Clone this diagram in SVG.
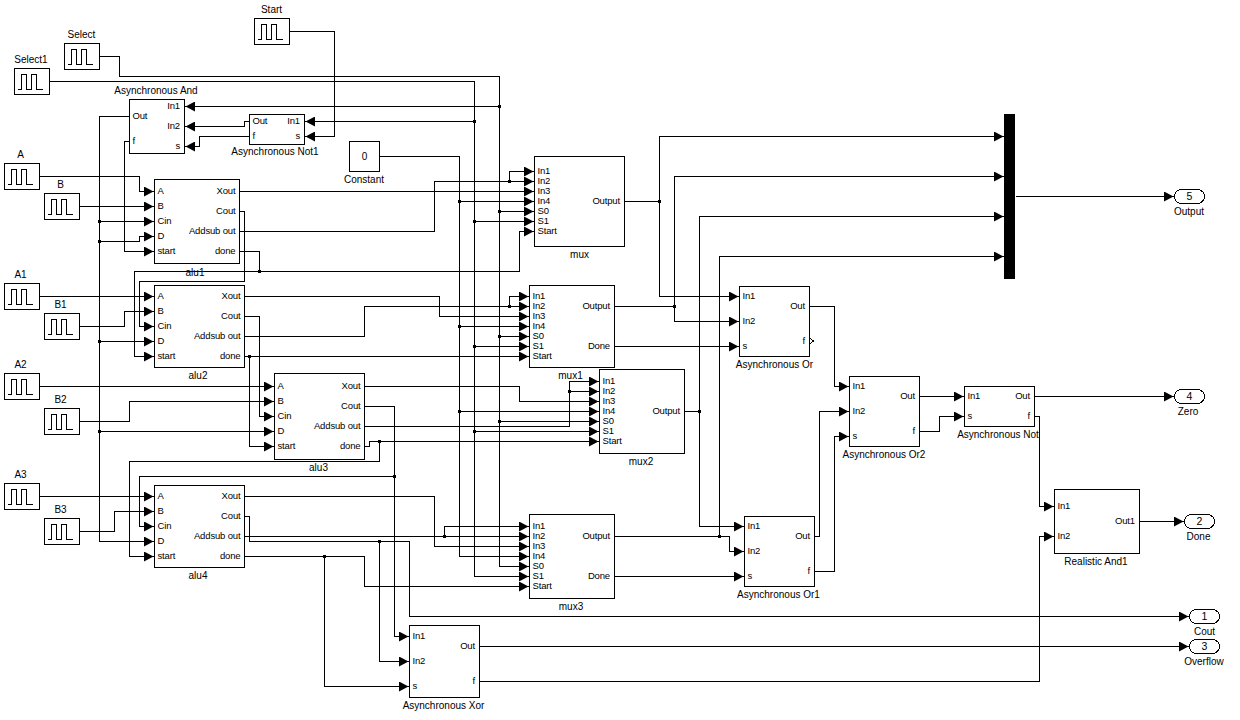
<svg xmlns="http://www.w3.org/2000/svg" xmlns:xlink="http://www.w3.org/1999/xlink" width="1240" height="720" viewBox="0 0 1240 720">
<style>
text{font-family:"Liberation Sans",Arial,sans-serif;fill:#000}
.p{font-size:9.5px;letter-spacing:-.15px;transform:translateY(-1px)}
.e{font-size:9.5px;letter-spacing:-.15px;text-anchor:end;transform:translateY(-1px)}
.t{font-size:10px;text-anchor:middle}
.n{font-size:10.5px;text-anchor:middle}
.b{fill:#fff;stroke:#000;stroke-width:1;shape-rendering:crispEdges}
.g{fill:none;stroke:#000;stroke-width:1;shape-rendering:crispEdges}
#wires path{fill:none;stroke:#000;stroke-width:1;shape-rendering:crispEdges}
#wires path.a{marker-end:url(#arr)}
#wires rect{fill:#000}
</style>
<defs>
<marker id="arr" markerUnits="userSpaceOnUse" markerWidth="12" markerHeight="10" refX="10.5" refY="5" orient="auto"><path d="M0,0L9.5,5L0,10Z" fill="#000"/></marker>
<path id="pulse" d="M3.5,21H7V6H12V21H17V6H22V21H28" fill="none" stroke="#000" shape-rendering="crispEdges"/>
<rect id="dot" width="3" height="3" x="-1.5" y="-1.5"/>
</defs>
<rect width="1240" height="720" fill="#fff"/>

<g id="wires">
<path class="a" d="M99.5,56.5H119.5V76.5H499.5V566.5H529.5"/>
<path class="a" d="M499.5,106.5H184.5"/>
<path class="a" d="M499.5,211.5H534.5"/>
<path class="a" d="M499.5,336.5H529.5"/>
<path class="a" d="M499.5,421.5H599.5"/>
<path class="a" d="M49.5,81.5H474.5V576.5H529.5"/>
<path class="a" d="M474.5,121.5H304.5"/>
<path class="a" d="M474.5,221.5H534.5"/>
<path class="a" d="M474.5,346.5H529.5"/>
<path class="a" d="M474.5,431.5H599.5"/>
<path class="a" d="M289.5,31.5H334.5V136.5H304.5"/>
<path class="a" d="M249.5,121.5H244.5V126.5H184.5"/>
<path class="a" d="M249.5,136.5H199.5V146.5H184.5"/>
<path class="a" d="M129.5,116.5H99.5V541.5H154.5"/>
<path class="a" d="M99.5,221.5H154.5"/>
<path class="a" d="M99.5,241.5H139.5V236.5H154.5"/>
<path class="a" d="M99.5,341.5H154.5"/>
<path class="a" d="M99.5,431.5H274.5"/>
<path class="a" d="M129.5,141.5H124.5V251.5H154.5"/>
<path class="a" d="M39.5,176.5H139.5V191.5H154.5"/>
<path class="a" d="M79.5,206.5H154.5"/>
<path class="a" d="M239.5,191.5H534.5"/>
<path class="a" d="M239.5,231.5H434.5V181.5H534.5"/>
<path class="a" d="M509.5,181.5V171.5H534.5"/>
<path class="a" d="M239.5,251.5H259.5V271.5H519.5V231.5H534.5"/>
<path class="a" d="M259.5,271.5H134.5V356.5H154.5"/>
<path class="a" d="M239.5,211.5H244.5V281.5H139.5V326.5H154.5"/>
<path class="a" d="M379.5,156.5H459.5V556.5H529.5"/>
<path class="a" d="M459.5,201.5H534.5"/>
<path class="a" d="M459.5,326.5H529.5"/>
<path class="a" d="M459.5,411.5H599.5"/>
<path class="a" d="M39.5,296.5H154.5"/>
<path class="a" d="M79.5,326.5H124.5V311.5H154.5"/>
<path class="a" d="M244.5,296.5H439.5V316.5H529.5"/>
<path class="a" d="M244.5,316.5H259.5V416.5H274.5"/>
<path class="a" d="M244.5,336.5H364.5V306.5H529.5"/>
<path class="a" d="M509.5,306.5V296.5H529.5"/>
<path class="a" d="M244.5,356.5H529.5"/>
<path class="a" d="M249.5,356.5V446.5H274.5"/>
<path class="a" d="M39.5,386.5H274.5"/>
<path class="a" d="M79.5,421.5H129.5V401.5H274.5"/>
<path class="a" d="M364.5,386.5H519.5V401.5H599.5"/>
<path class="a" d="M364.5,406.5H394.5V636.5H409.5"/>
<path class="a" d="M394.5,476.5H139.5V526.5H154.5"/>
<path class="a" d="M364.5,426.5H569.5V381.5H599.5"/>
<path class="a" d="M569.5,391.5H599.5"/>
<path class="a" d="M364.5,446.5H369.5V441.5H599.5"/>
<path class="a" d="M379.5,441.5V461.5H129.5V556.5H154.5"/>
<path class="a" d="M39.5,496.5H154.5"/>
<path class="a" d="M79.5,531.5H114.5V511.5H154.5"/>
<path class="a" d="M244.5,496.5H434.5V546.5H529.5"/>
<path class="a" d="M244.5,516.5H249.5V541.5H409.5V616.5H1189.5"/>
<path class="a" d="M379.5,541.5V661.5H409.5"/>
<path class="a" d="M244.5,536.5H529.5"/>
<path class="a" d="M444.5,536.5V526.5H529.5"/>
<path class="a" d="M244.5,556.5H364.5V586.5H529.5"/>
<path class="a" d="M324.5,556.5V686.5H409.5"/>
<path class="a" d="M479.5,646.5H1189.5"/>
<path class="a" d="M479.5,681.5H1039.5V536.5H1054.5"/>
<path class="a" d="M624.5,201.5H659.5V136.5H1004.5"/>
<path class="a" d="M659.5,201.5V296.5H739.5"/>
<path class="a" d="M614.5,306.5H674.5V176.5H1004.5"/>
<path class="a" d="M674.5,306.5V321.5H739.5"/>
<path class="a" d="M614.5,346.5H739.5"/>
<path class="a" d="M684.5,411.5H699.5V216.5H1004.5"/>
<path class="a" d="M699.5,411.5V526.5H744.5"/>
<path class="a" d="M614.5,536.5H719.5V256.5H1004.5"/>
<path class="a" d="M719.5,536.5H729.5V551.5H744.5"/>
<path class="a" d="M614.5,576.5H744.5"/>
<path class="a" d="M1015.5,196.5H1174.5"/>
<path class="a" d="M809.5,306.5H834.5V386.5H849.5"/>
<path class="a" d="M814.5,536.5H819.5V411.5H849.5"/>
<path class="a" d="M814.5,571.5H834.5V436.5H849.5"/>
<path class="a" d="M919.5,396.5H964.5"/>
<path class="a" d="M919.5,431.5H939.5V416.5H964.5"/>
<path class="a" d="M1034.5,396.5H1174.5"/>
<path class="a" d="M1034.5,416.5H1039.5V506.5H1054.5"/>
<path class="a" d="M1139.5,521.5H1184.5"/>
<use xlink:href="#dot" x="499.5" y="106.5"/><use xlink:href="#dot" x="499.5" y="211.5"/><use xlink:href="#dot" x="499.5" y="336.5"/><use xlink:href="#dot" x="499.5" y="421.5"/>
<use xlink:href="#dot" x="474.5" y="121.5"/><use xlink:href="#dot" x="474.5" y="221.5"/><use xlink:href="#dot" x="474.5" y="346.5"/><use xlink:href="#dot" x="474.5" y="431.5"/>
<use xlink:href="#dot" x="459.5" y="201.5"/><use xlink:href="#dot" x="459.5" y="326.5"/><use xlink:href="#dot" x="459.5" y="411.5"/>
<use xlink:href="#dot" x="99.5" y="221.5"/><use xlink:href="#dot" x="99.5" y="241.5"/><use xlink:href="#dot" x="99.5" y="341.5"/><use xlink:href="#dot" x="99.5" y="431.5"/>
<use xlink:href="#dot" x="509.5" y="181.5"/><use xlink:href="#dot" x="259.5" y="271.5"/><use xlink:href="#dot" x="509.5" y="306.5"/><use xlink:href="#dot" x="249.5" y="356.5"/>
<use xlink:href="#dot" x="394.5" y="476.5"/><use xlink:href="#dot" x="569.5" y="391.5"/><use xlink:href="#dot" x="379.5" y="441.5"/>
<use xlink:href="#dot" x="379.5" y="541.5"/><use xlink:href="#dot" x="444.5" y="536.5"/><use xlink:href="#dot" x="324.5" y="556.5"/>
<use xlink:href="#dot" x="659.5" y="201.5"/><use xlink:href="#dot" x="674.5" y="306.5"/><use xlink:href="#dot" x="699.5" y="411.5"/><use xlink:href="#dot" x="719.5" y="536.5"/>
</g>

<g id="select1"><rect class="b" x="14.5" y="68.5" width="35" height="26"/><use xlink:href="#pulse" x="14.5" y="68.5"/><text class="t" x="31" y="63">Select1</text></g>
<g id="select"><rect class="b" x="64.5" y="43.5" width="35" height="26"/><use xlink:href="#pulse" x="64.5" y="43.5"/><text class="t" x="81.5" y="38">Select</text></g>
<g id="start"><rect class="b" x="254.5" y="18.5" width="35" height="26"/><use xlink:href="#pulse" x="254.5" y="18.5"/><text class="t" x="271.5" y="13">Start</text></g>
<g id="srcA"><rect class="b" x="4.5" y="163.5" width="35" height="26"/><use xlink:href="#pulse" x="4.5" y="163.5"/><text class="t" x="20.5" y="158">A</text></g>
<g id="srcB"><rect class="b" x="44.5" y="193.5" width="35" height="26"/><use xlink:href="#pulse" x="44.5" y="193.5"/><text class="t" x="60.5" y="188">B</text></g>
<g id="srcA1"><rect class="b" x="4.5" y="283.5" width="35" height="26"/><use xlink:href="#pulse" x="4.5" y="283.5"/><text class="t" x="20.5" y="278">A1</text></g>
<g id="srcB1"><rect class="b" x="44.5" y="313.5" width="35" height="26"/><use xlink:href="#pulse" x="44.5" y="313.5"/><text class="t" x="60.5" y="308">B1</text></g>
<g id="srcA2"><rect class="b" x="4.5" y="373.5" width="35" height="26"/><use xlink:href="#pulse" x="4.5" y="373.5"/><text class="t" x="20.5" y="368">A2</text></g>
<g id="srcB2"><rect class="b" x="44.5" y="408.5" width="35" height="26"/><use xlink:href="#pulse" x="44.5" y="408.5"/><text class="t" x="60.5" y="403">B2</text></g>
<g id="srcA3"><rect class="b" x="4.5" y="483.5" width="35" height="26"/><use xlink:href="#pulse" x="4.5" y="483.5"/><text class="t" x="20.5" y="478">A3</text></g>
<g id="srcB3"><rect class="b" x="44.5" y="518.5" width="35" height="26"/><use xlink:href="#pulse" x="44.5" y="518.5"/><text class="t" x="60.5" y="513">B3</text></g>

<g id="constant"><rect class="b" x="349.5" y="141.5" width="30" height="30"/><text class="t" x="364.5" y="160">0</text><text class="t" x="364" y="183">Constant</text></g>

<g id="asyncAnd"><rect class="b" x="129.5" y="99.5" width="55" height="54"/>
<text class="e" x="180" y="110">In1</text><text class="e" x="180" y="130">In2</text><text class="e" x="180" y="150">s</text>
<text class="p" x="132.5" y="120">Out</text><text class="p" x="132.5" y="145">f</text>
<text class="t" x="156" y="94">Asynchronous And</text></g>

<g id="asyncNot1"><rect class="b" x="249.5" y="114.5" width="55" height="30"/>
<text class="e" x="300" y="125">In1</text><text class="e" x="300" y="140">s</text>
<text class="p" x="252.5" y="125">Out</text><text class="p" x="252.5" y="140">f</text>
<text class="t" x="275" y="155">Asynchronous Not1</text></g>

<g id="alu1"><rect class="b" x="154.5" y="179.5" width="85" height="84"/>
<text class="p" x="157.5" y="195">A</text><text class="p" x="157.5" y="210">B</text><text class="p" x="157.5" y="225">Cin</text><text class="p" x="157.5" y="240">D</text><text class="p" x="157.5" y="255">start</text>
<text class="e" x="235.5" y="195">Xout</text><text class="e" x="235.5" y="215">Cout</text><text class="e" x="235.5" y="235">Addsub out</text><text class="e" x="235.5" y="255">done</text>
<text class="t" x="195" y="276">alu1</text></g>

<g id="alu2"><rect class="b" x="154.5" y="285.5" width="90" height="82"/>
<text class="p" x="157.5" y="300">A</text><text class="p" x="157.5" y="315">B</text><text class="p" x="157.5" y="330">Cin</text><text class="p" x="157.5" y="345">D</text><text class="p" x="157.5" y="360">start</text>
<text class="e" x="240.5" y="300">Xout</text><text class="e" x="240.5" y="320">Cout</text><text class="e" x="240.5" y="340">Addsub out</text><text class="e" x="240.5" y="360">done</text>
<text class="t" x="198" y="379">alu2</text></g>

<g id="alu3"><rect class="b" x="274.5" y="373.5" width="90" height="86"/>
<text class="p" x="277.5" y="390">A</text><text class="p" x="277.5" y="405">B</text><text class="p" x="277.5" y="420">Cin</text><text class="p" x="277.5" y="435">D</text><text class="p" x="277.5" y="450">start</text>
<text class="e" x="360.5" y="390">Xout</text><text class="e" x="360.5" y="410">Cout</text><text class="e" x="360.5" y="430">Addsub out</text><text class="e" x="360.5" y="450">done</text>
<text class="t" x="318.5" y="471">alu3</text></g>

<g id="alu4"><rect class="b" x="154.5" y="485.5" width="90" height="82"/>
<text class="p" x="157.5" y="500">A</text><text class="p" x="157.5" y="515">B</text><text class="p" x="157.5" y="530">Cin</text><text class="p" x="157.5" y="545">D</text><text class="p" x="157.5" y="560">start</text>
<text class="e" x="240.5" y="500">Xout</text><text class="e" x="240.5" y="520">Cout</text><text class="e" x="240.5" y="540">Addsub out</text><text class="e" x="240.5" y="560">done</text>
<text class="t" x="198" y="579">alu4</text></g>

<g id="mux"><rect class="b" x="534.5" y="156.5" width="90" height="90"/>
<text class="p" x="537.5" y="175">In1</text><text class="p" x="537.5" y="185">In2</text><text class="p" x="537.5" y="195">In3</text><text class="p" x="537.5" y="205">In4</text><text class="p" x="537.5" y="215">S0</text><text class="p" x="537.5" y="225">S1</text><text class="p" x="537.5" y="235">Start</text>
<text class="e" x="620" y="205">Output</text><text class="t" x="579.5" y="258">mux</text></g>

<g id="mux1"><rect class="b" x="529.5" y="285.5" width="85" height="82"/>
<text class="p" x="532.5" y="300">In1</text><text class="p" x="532.5" y="310">In2</text><text class="p" x="532.5" y="320">In3</text><text class="p" x="532.5" y="330">In4</text><text class="p" x="532.5" y="340">S0</text><text class="p" x="532.5" y="350">S1</text><text class="p" x="532.5" y="360">Start</text>
<text class="e" x="610" y="310">Output</text><text class="e" x="610" y="350">Done</text><text class="t" x="570.5" y="379">mux1</text></g>

<g id="mux2"><rect class="b" x="599.5" y="369.5" width="85" height="84"/>
<text class="p" x="602.5" y="385">In1</text><text class="p" x="602.5" y="395">In2</text><text class="p" x="602.5" y="405">In3</text><text class="p" x="602.5" y="415">In4</text><text class="p" x="602.5" y="425">S0</text><text class="p" x="602.5" y="435">S1</text><text class="p" x="602.5" y="445">Start</text>
<text class="e" x="680" y="415">Output</text><text class="t" x="641" y="465">mux2</text></g>

<g id="mux3"><rect class="b" x="529.5" y="514.5" width="85" height="84"/>
<text class="p" x="532.5" y="530">In1</text><text class="p" x="532.5" y="540">In2</text><text class="p" x="532.5" y="550">In3</text><text class="p" x="532.5" y="560">In4</text><text class="p" x="532.5" y="570">S0</text><text class="p" x="532.5" y="580">S1</text><text class="p" x="532.5" y="590">Start</text>
<text class="e" x="610" y="540">Output</text><text class="e" x="610" y="580">Done</text><text class="t" x="571" y="610">mux3</text></g>

<g id="asyncOr"><rect class="b" x="739.5" y="286.5" width="70" height="70"/>
<text class="p" x="742.5" y="300">In1</text><text class="p" x="742.5" y="325">In2</text><text class="p" x="742.5" y="350">s</text>
<text class="e" x="805" y="310">Out</text><text class="e" x="805" y="345">f</text>
<path class="g" d="M810.5,338.5L813.5,341L810.5,343.5"/>
<text class="t" x="774.5" y="368">Asynchronous Or</text></g>

<g id="asyncOr1"><rect class="b" x="744.5" y="516.5" width="70" height="70"/>
<text class="p" x="747.5" y="530">In1</text><text class="p" x="747.5" y="555">In2</text><text class="p" x="747.5" y="580">s</text>
<text class="e" x="810" y="540">Out</text><text class="e" x="810" y="575">f</text>
<text class="t" x="778.5" y="598">Asynchronous Or1</text></g>

<g id="asyncOr2"><rect class="b" x="849.5" y="376.5" width="70" height="70"/>
<text class="p" x="852.5" y="390">In1</text><text class="p" x="852.5" y="415">In2</text><text class="p" x="852.5" y="440">s</text>
<text class="e" x="915" y="400">Out</text><text class="e" x="915" y="435">f</text>
<text class="t" x="884" y="458">Asynchronous Or2</text></g>

<g id="asyncNot"><rect class="b" x="964.5" y="386.5" width="70" height="40"/>
<text class="p" x="967.5" y="400">In1</text><text class="p" x="967.5" y="420">s</text>
<text class="e" x="1030" y="400">Out</text><text class="e" x="1030" y="420">f</text>
<text class="t" x="998" y="438">Asynchronous Not</text></g>

<g id="asyncXor"><rect class="b" x="409.5" y="625.5" width="70" height="72"/>
<text class="p" x="412.5" y="640">In1</text><text class="p" x="412.5" y="665">In2</text><text class="p" x="412.5" y="690">s</text>
<text class="e" x="475" y="650">Out</text><text class="e" x="475" y="685">f</text>
<text class="t" x="443.5" y="709">Asynchronous Xor</text></g>

<g id="realisticAnd1"><rect class="b" x="1054.5" y="489.5" width="85" height="64"/>
<text class="p" x="1057.5" y="510">In1</text><text class="p" x="1057.5" y="540">In2</text>
<text class="e" x="1135" y="525">Out1</text>
<text class="t" x="1096" y="565">Realistic And1</text></g>

<g id="bus"><rect x="1004" y="114" width="11" height="165" fill="#000"/></g>

<g id="outOutput"><rect class="b" x="1174.5" y="189.5" width="30" height="14" rx="7"/><text class="n" x="1189.5" y="200">5</text><text class="t" x="1189" y="215">Output</text></g>
<g id="outZero"><rect class="b" x="1174.5" y="389.5" width="30" height="14" rx="7"/><text class="n" x="1189.5" y="400">4</text><text class="t" x="1188" y="415">Zero</text></g>
<g id="outDone"><rect class="b" x="1184.5" y="514.5" width="30" height="14" rx="7"/><text class="n" x="1199.5" y="525">2</text><text class="t" x="1198.5" y="540">Done</text></g>
<g id="outCout"><rect class="b" x="1189.5" y="609.5" width="30" height="14" rx="7"/><text class="n" x="1204.5" y="620">1</text><text class="t" x="1204.5" y="635">Cout</text></g>
<g id="outOverflow"><rect class="b" x="1189.5" y="639.5" width="30" height="14" rx="7"/><text class="n" x="1204.5" y="650">3</text><text class="t" x="1204" y="665">Overflow</text></g>
</svg>
